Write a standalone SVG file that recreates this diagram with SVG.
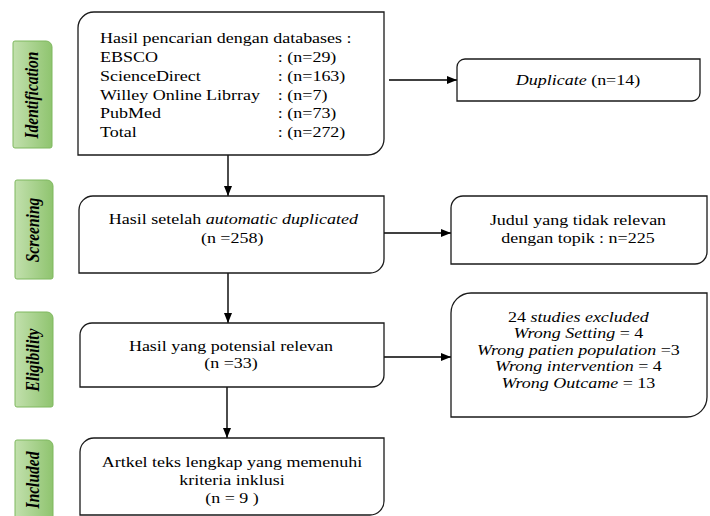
<svg xmlns="http://www.w3.org/2000/svg" width="710" height="516" viewBox="0 0 710 516">
<defs>
<linearGradient id="g" x1="0" y1="0" x2="1" y2="0">
<stop offset="0" stop-color="#c2e0ad"/>
<stop offset="1" stop-color="#8fc46f"/>
</linearGradient>
<marker id="ah" markerWidth="10" markerHeight="8" refX="10" refY="4" orient="auto" markerUnits="userSpaceOnUse">
<path d="M0,0 L10,4 L0,8 Z" fill="#000"/>
</marker>
</defs>
<style>
.box{fill:#fff;stroke:#1a1a1a;stroke-width:1.3}
.stage{fill:url(#g);stroke:#7fb85f;stroke-width:1}
text{font-family:'Liberation Serif','Times New Roman',serif}
.t{font-size:15px;fill:#000}
.c{text-anchor:middle}
.i{font-style:italic}
.st{font-size:15.5px;font-weight:bold;font-style:italic;fill:#000;text-anchor:middle}
.conn{stroke:#000;stroke-width:1.4;fill:none;marker-end:url(#ah)}
</style>
<rect width="710" height="516" fill="#fff"/>
<g id="stage-identification">
<path class="stage" d="M15,41 H46 A6,6 0 0 1 52,47 V146 A2,2 0 0 1 50,148 H15 A2,2 0 0 1 13,146 V43 A2,2 0 0 1 15,41 Z"/>
<text class="st" transform="translate(38,95) scale(1.15,1) rotate(-90)">Identification</text>
</g>
<g id="stage-screening">
<path class="stage" d="M17,180 H47 A6,6 0 0 1 53,186 V277 A2,2 0 0 1 51,279 H17 A2,2 0 0 1 15,277 V182 A2,2 0 0 1 17,180 Z"/>
<text class="st" transform="translate(39,230) scale(1.15,1) rotate(-90)">Screening</text>
</g>
<g id="stage-eligibility">
<path class="stage" d="M17,312 H47 A6,6 0 0 1 53,318 V405 A2,2 0 0 1 51,407 H17 A2,2 0 0 1 15,405 V314 A2,2 0 0 1 17,312 Z"/>
<text class="st" transform="translate(39,360) scale(1.15,1) rotate(-90)">Eligibility</text>
</g>
<g id="stage-included">
<path class="stage" d="M17,440 H47 A6,6 0 0 1 53,446 V520 H15 V442 A2,2 0 0 1 17,440 Z"/>
<text class="st" transform="translate(39,480) scale(1.15,1) rotate(-90)">Included</text>
</g>
<g id="connectors">
<path class="conn" d="M228,155 V196"/>
<path class="conn" d="M389,80 H457"/>
<path class="conn" d="M228,273 V323"/>
<path class="conn" d="M384,233 H451"/>
<path class="conn" d="M227,387 V438"/>
<path class="conn" d="M384,357 H451"/>
</g>
<g id="node-search">
<path class="box" d="M94,12 H384 V139 A16,16 0 0 1 368,155 H78 V28 A16,16 0 0 1 94,12 Z"/>
<g transform="scale(1.2,1)">
<text class="t" x="83.33" y="43">Hasil pencarian dengan databases :</text>
<text class="t" x="83.33" y="62">EBSCO</text>
<text class="t" x="83.33" y="81">ScienceDirect</text>
<text class="t" x="83.33" y="100">Willey Online Librray</text>
<text class="t" x="83.33" y="118">PubMed</text>
<text class="t" x="83.33" y="137">Total</text>
<text class="t" x="231.5" y="62">: (n=29)</text>
<text class="t" x="231.5" y="81">: (n=163)</text>
<text class="t" x="231.5" y="100">: (n=7)</text>
<text class="t" x="231.5" y="118">: (n=73)</text>
<text class="t" x="231.5" y="137">: (n=272)</text>
</g>
</g>
<g id="node-duplicate">
<path class="box" d="M465,59 H700 V93 A8,8 0 0 1 692,101 H457 V67 A8,8 0 0 1 465,59 Z"/>
<g transform="scale(1.2,1)">
<text class="t c" x="481.67" y="85"><tspan class="i">Duplicate</tspan> (n=14)</text>
</g>
</g>
<g id="node-screening">
<path class="box" d="M93,196 H384 V259 A14,14 0 0 1 370,273 H79 V210 A14,14 0 0 1 93,196 Z"/>
<g transform="scale(1.2,1)">
<text class="t c" x="194.5" y="224">Hasil setelah <tspan class="i">automatic duplicated</tspan></text>
<text class="t c" x="193.5" y="243">(n =258)</text>
</g>
</g>
<g id="node-irrelevant">
<path class="box" d="M463,196 H707 V252 A12,12 0 0 1 695,264 H451 V208 A12,12 0 0 1 463,196 Z"/>
<g transform="scale(1.2,1)">
<text class="t c" x="481.67" y="225">Judul yang tidak relevan</text>
<text class="t c" x="481.67" y="243">dengan topik : n=225</text>
</g>
</g>
<g id="node-eligibility">
<path class="box" d="M92,323 H384 V375 A12,12 0 0 1 372,387 H80 V335 A12,12 0 0 1 92,323 Z"/>
<g transform="scale(1.2,1)">
<text class="t c" x="192.5" y="351">Hasil yang potensial relevan</text>
<text class="t c" x="192.5" y="368">(n =33)</text>
</g>
</g>
<g id="node-excluded">
<path class="box" d="M471,293 H707 V397 A20,20 0 0 1 687,417 H451 V313 A20,20 0 0 1 471,293 Z"/>
<g transform="scale(1.2,1)">
<text class="t c" x="482" y="322">24 <tspan class="i">studies excluded</tspan></text>
<text class="t c" x="482" y="338.5"><tspan class="i">Wrong Setting</tspan> = 4</text>
<text class="t c" x="482" y="355"><tspan class="i">Wrong patien population</tspan> =3</text>
<text class="t c" x="482" y="371.5"><tspan class="i">Wrong intervention</tspan> = 4</text>
<text class="t c" x="482" y="388"><tspan class="i">Wrong Outcame</tspan> = 13</text>
</g>
</g>
<g id="node-included">
<path class="box" d="M94,438 H384 V501 A14,14 0 0 1 370,515 H80 V452 A14,14 0 0 1 94,438 Z"/>
<g transform="scale(1.2,1)">
<text class="t c" x="193.33" y="467">Artkel teks lengkap yang memenuhi</text>
<text class="t c" x="193.33" y="485">kriteria inklusi</text>
<text class="t c" x="193.33" y="503">(n = 9 )</text>
</g>
</g>
</svg>
